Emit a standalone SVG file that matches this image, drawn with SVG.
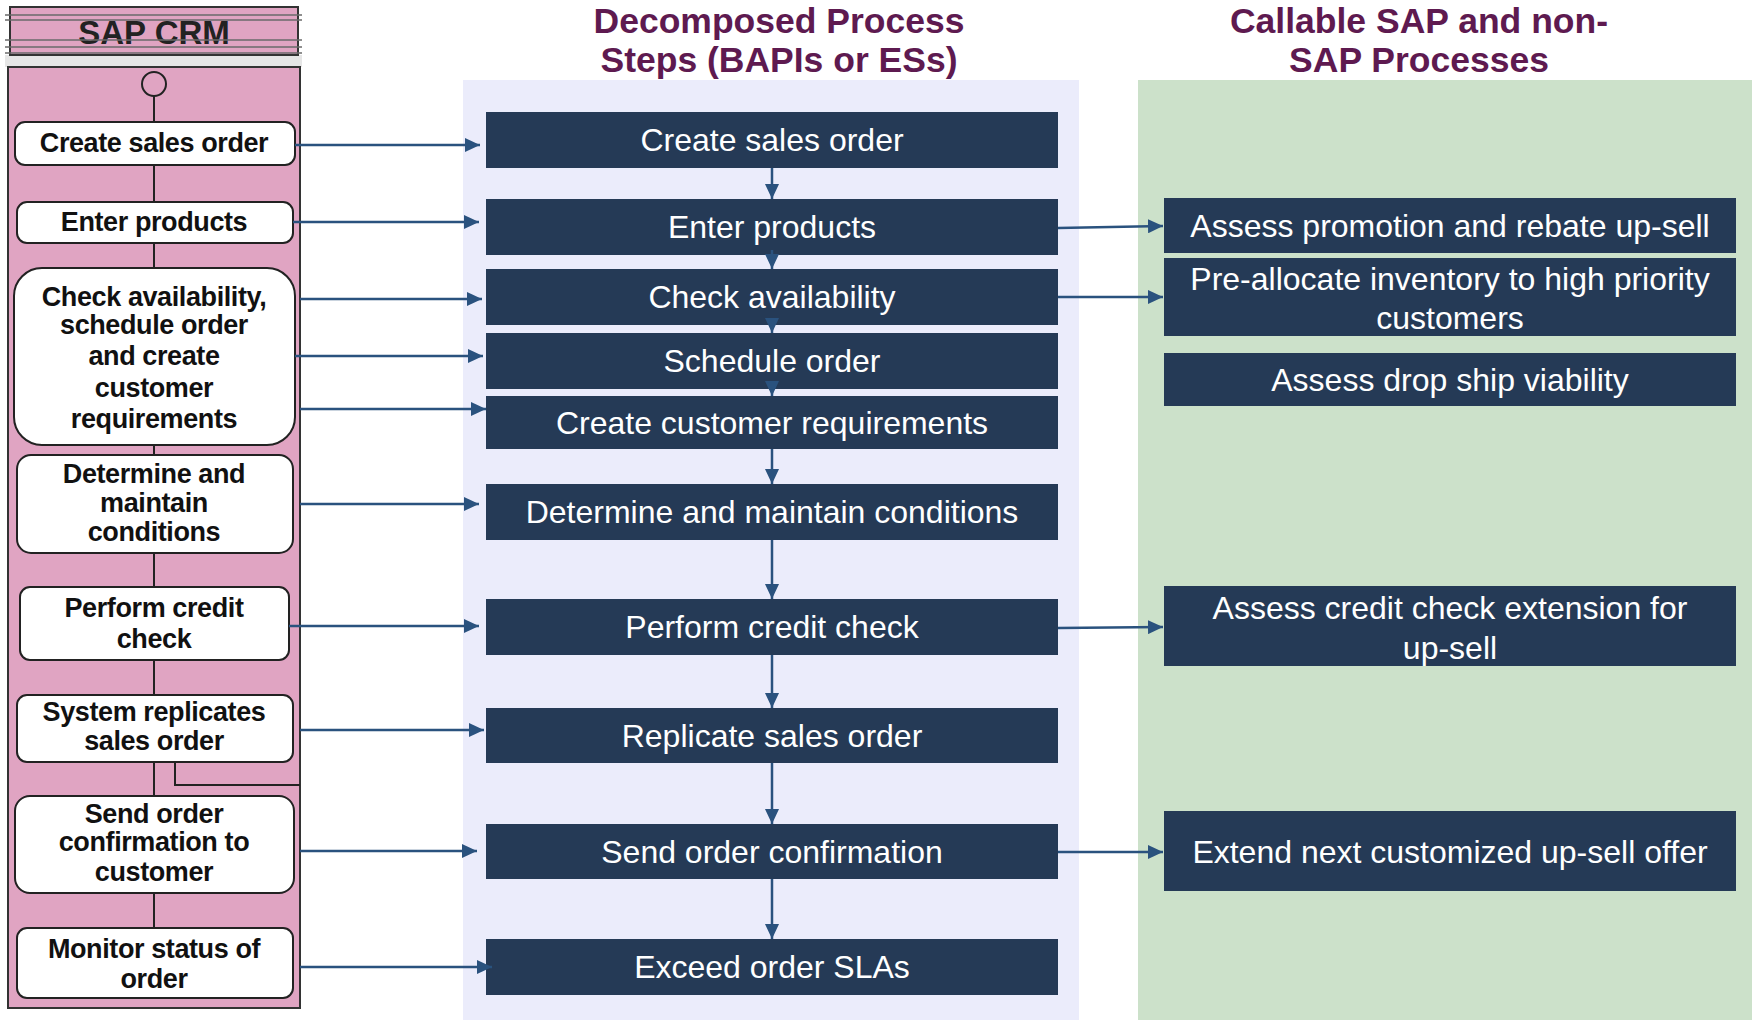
<svg xmlns="http://www.w3.org/2000/svg" width="1752" height="1020" viewBox="0 0 1752 1020">
<defs>
<marker id="ah" viewBox="0 0 15 14" refX="15" refY="7" markerWidth="15" markerHeight="14" markerUnits="userSpaceOnUse" orient="auto">
<path d="M0,0 L15,7 L0,14 z" fill="#2A527E"/>
</marker>
<style>
.title{font-family:"Liberation Sans",Arial,sans-serif;font-weight:bold;font-size:35.5px;fill:#5E1A50;text-anchor:middle}
.step{fill:#253A56}
.st{font-family:"Liberation Sans",Arial,sans-serif;font-size:32px;fill:#FFFFFF;text-anchor:middle}
.lbox{fill:#FFFFFF;stroke:#222222;stroke-width:2}
.lt{font-family:"Liberation Sans",Arial,sans-serif;font-weight:bold;font-size:27px;letter-spacing:-0.4px;fill:#111111;text-anchor:middle}
.conn{stroke:#2A527E;stroke-width:2.5;fill:none;marker-end:url(#ah)}
.hl{stroke:#6A6A6A;stroke-width:1.5}
</style>
</defs>
<rect x="0" y="0" width="1752" height="1020" fill="#FFFFFF"/>

<!-- panels -->
<rect x="463" y="80" width="616" height="940" fill="#EBECFB"/>
<rect x="1138" y="80" width="614" height="940" fill="#CCE1CA"/>

<!-- titles -->
<text class="title" x="779" y="32.5">Decomposed Process</text>
<text class="title" x="779" y="72">Steps (BAPIs or ESs)</text>
<text class="title" x="1419" y="32.5">Callable SAP and non-</text>
<text class="title" x="1419" y="72">SAP Processes</text>

<!-- SAP CRM lane -->
<g id="sap-crm-lane">
<rect x="5" y="55" width="297" height="12" fill="#E6E6E6"/>
<rect x="10" y="7" width="288" height="48" fill="#E0A4C2" stroke="#333333" stroke-width="2"/>
<text x="154" y="44" font-family="Liberation Sans, Arial, sans-serif" font-weight="bold" font-size="33" fill="#222222" text-anchor="middle">SAP CRM</text>
<line class="hl" x1="5" y1="15" x2="302" y2="15"/>
<line class="hl" x1="5" y1="20" x2="302" y2="20"/>
<line class="hl" x1="5" y1="40" x2="302" y2="40"/>
<line class="hl" x1="5" y1="47" x2="302" y2="47"/>
<line class="hl" x1="5" y1="53" x2="302" y2="53"/>
<rect x="8" y="67" width="292" height="941" fill="#E0A4C2" stroke="#333333" stroke-width="2"/>
<line x1="154" y1="96" x2="154" y2="930" stroke="#222222" stroke-width="2"/>
<polyline points="175,762 175,785 300,785" fill="none" stroke="#222222" stroke-width="2"/>
<circle cx="154" cy="84" r="12" fill="#E0A4C2" stroke="#222222" stroke-width="2"/>
</g>

<g id="l-create-sales-order">
<rect class="lbox" x="15" y="122" width="280" height="43" rx="10"/>
<text class="lt" x="154" y="152">Create sales order</text>
</g>
<g id="l-enter-products">
<rect class="lbox" x="17" y="202" width="276" height="41" rx="10"/>
<text class="lt" x="154" y="231">Enter products</text>
</g>
<g id="l-check-availability">
<rect class="lbox" x="14" y="268" width="281" height="177" rx="28"/>
<text class="lt" x="154" y="306">Check availability,</text>
<text class="lt" x="154" y="334">schedule order</text>
<text class="lt" x="154" y="365">and create</text>
<text class="lt" x="154" y="397">customer</text>
<text class="lt" x="154" y="428">requirements</text>
</g>
<g id="l-determine">
<rect class="lbox" x="17" y="455" width="276" height="98" rx="14"/>
<text class="lt" x="154" y="483">Determine and</text>
<text class="lt" x="154" y="512">maintain</text>
<text class="lt" x="154" y="541">conditions</text>
</g>
<g id="l-credit-check">
<rect class="lbox" x="20" y="587" width="269" height="73" rx="10"/>
<text class="lt" x="154" y="617">Perform credit</text>
<text class="lt" x="154" y="648">check</text>
</g>
<g id="l-replicates">
<rect class="lbox" x="17" y="695" width="276" height="67" rx="10"/>
<text class="lt" x="154" y="721">System replicates</text>
<text class="lt" x="154" y="750">sales order</text>
</g>
<g id="l-send-confirmation">
<rect class="lbox" x="15" y="796" width="279" height="97" rx="15"/>
<text class="lt" x="154" y="823">Send order</text>
<text class="lt" x="154" y="851">confirmation to</text>
<text class="lt" x="154" y="881">customer</text>
</g>
<g id="l-monitor">
<rect class="lbox" x="17" y="928" width="276" height="70" rx="10"/>
<text class="lt" x="154" y="958">Monitor status of</text>
<text class="lt" x="154" y="988">order</text>
</g>

<!-- middle steps -->
<g id="m-create-sales-order"><rect class="step" x="486" y="112" width="572" height="56"/><text class="st" x="772" y="151">Create sales order</text></g>
<g id="m-enter-products"><rect class="step" x="486" y="199" width="572" height="56"/><text class="st" x="772" y="238">Enter products</text></g>
<g id="m-check-availability"><rect class="step" x="486" y="269" width="572" height="56"/><text class="st" x="772" y="308">Check availability</text></g>
<g id="m-schedule-order"><rect class="step" x="486" y="333" width="572" height="56"/><text class="st" x="772" y="372">Schedule order</text></g>
<g id="m-customer-requirements"><rect class="step" x="486" y="396" width="572" height="53"/><text class="st" x="772" y="434">Create customer requirements</text></g>
<g id="m-conditions"><rect class="step" x="486" y="484" width="572" height="56"/><text class="st" x="772" y="523">Determine and maintain conditions</text></g>
<g id="m-credit-check"><rect class="step" x="486" y="599" width="572" height="56"/><text class="st" x="772" y="638">Perform credit check</text></g>
<g id="m-replicate"><rect class="step" x="486" y="708" width="572" height="55"/><text class="st" x="772" y="747">Replicate sales order</text></g>
<g id="m-send-confirmation"><rect class="step" x="486" y="824" width="572" height="55"/><text class="st" x="772" y="863">Send order confirmation</text></g>
<g id="m-exceed-slas"><rect class="step" x="486" y="939" width="572" height="56"/><text class="st" x="772" y="978">Exceed order SLAs</text></g>

<!-- right processes -->
<g id="r-promotion"><rect class="step" x="1164" y="198" width="572" height="55"/><text class="st" x="1450" y="237">Assess promotion and rebate up-sell</text></g>
<g id="r-preallocate"><rect class="step" x="1164" y="258" width="572" height="78"/><text class="st" x="1450" y="290">Pre-allocate inventory to high priority</text><text class="st" x="1450" y="329">customers</text></g>
<g id="r-dropship"><rect class="step" x="1164" y="353" width="572" height="53"/><text class="st" x="1450" y="391">Assess drop ship viability</text></g>
<g id="r-credit-extension"><rect class="step" x="1164" y="586" width="572" height="80"/><text class="st" x="1450" y="619">Assess credit check extension for</text><text class="st" x="1450" y="659">up-sell</text></g>
<g id="r-upsell-offer"><rect class="step" x="1164" y="811" width="572" height="80"/><text class="st" x="1450" y="863">Extend next customized up-sell offer</text></g>

<!-- connectors -->
<g id="connectors">
<line class="conn" x1="295" y1="145" x2="480" y2="145"/>
<line class="conn" x1="293" y1="222" x2="479" y2="222"/>
<line class="conn" x1="300" y1="299" x2="482" y2="299"/>
<line class="conn" x1="295" y1="356" x2="483" y2="356"/>
<line class="conn" x1="300" y1="409" x2="486" y2="409"/>
<line class="conn" x1="300" y1="504" x2="479" y2="504"/>
<line class="conn" x1="289" y1="626" x2="479" y2="626"/>
<line class="conn" x1="300" y1="730" x2="484" y2="730"/>
<line class="conn" x1="300" y1="851" x2="477" y2="851"/>
<line class="conn" x1="300" y1="967" x2="492" y2="967"/>

<line class="conn" x1="772" y1="168" x2="772" y2="199"/>
<line class="conn" x1="772" y1="250" x2="772" y2="269"/>
<line class="conn" x1="772" y1="318" x2="772" y2="333"/>
<line class="conn" x1="772" y1="382" x2="772" y2="396"/>
<line class="conn" x1="772" y1="449" x2="772" y2="484"/>
<line class="conn" x1="772" y1="540" x2="772" y2="599"/>
<line class="conn" x1="772" y1="655" x2="772" y2="708"/>
<line class="conn" x1="772" y1="763" x2="772" y2="824"/>
<line class="conn" x1="772" y1="879" x2="772" y2="939"/>

<line class="conn" x1="1058" y1="228" x2="1163" y2="226"/>
<line class="conn" x1="1058" y1="297" x2="1163" y2="297"/>
<line class="conn" x1="1058" y1="628" x2="1163" y2="627"/>
<line class="conn" x1="1058" y1="852" x2="1163" y2="852"/>
</g>
</svg>
